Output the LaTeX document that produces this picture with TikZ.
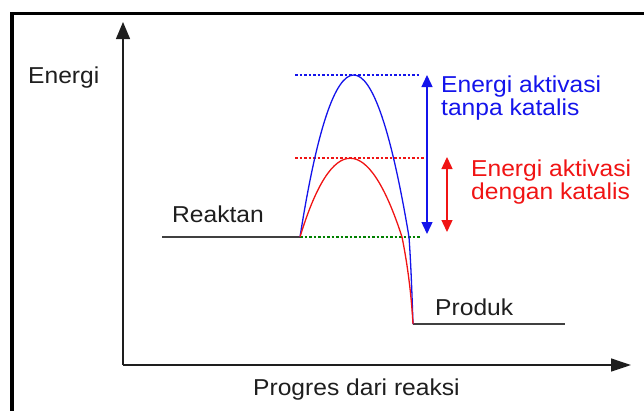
\documentclass[tikz,border=0pt]{standalone}
\usepackage{fontspec}
\setmainfont[FakeStretch=1.07]{Liberation Sans}
\usetikzlibrary{arrows.meta}
\definecolor{txtgray}{RGB}{30,30,30}
\definecolor{cblue}{RGB}{20,20,235}
\definecolor{cred}{RGB}{240,20,20}
\definecolor{cgreen}{RGB}{0,128,0}
\begin{document}
\begin{tikzpicture}[x=1pt,y=-1pt,
  lbl/.style={inner sep=0pt, anchor=base west, font=\fontsize{23}{23}\selectfont, text=txtgray},
  axis/.style={line width=1.3pt, draw=txtgray},
  level/.style={line width=1.2pt, draw=txtgray!85!white},
  curve/.style={line width=1.3pt},
  guide/.style={line width=1.2pt, dash pattern=on 2.5pt off 2pt},
  gap/.style={line width=1.4pt, {Triangle[length=12pt,width=11pt]}-{Triangle[length=12pt,width=11pt]}}
]
\useasboundingbox (0,0) rectangle (644,410);
% frame
\draw[line width=3.5pt, draw=black] (12,412) -- (12,13.5) -- (646,13.5);
% axes
\coordinate (O) at (123,365);
\coordinate (ytop) at (123,22);
\coordinate (xend) at (631,365);
\draw[axis, -{Triangle[length=17pt,width=14pt]}] (O) -- (ytop);
\draw[axis, -{Triangle[length=20pt,width=13pt]}] (O) -- (xend);
\node[lbl] (energi) at (28,83) {Energi};
\node[lbl] (progres) at (253,395) {Progres dari reaksi};
% levels
\coordinate (r0) at (162,237);
\coordinate (r1) at (300,237);
\coordinate (p0) at (413,324);
\coordinate (p1) at (565,324);
\draw[level] (r0) -- (r1);
\draw[level] (p0) -- (p1);
\node[lbl] (reaktan) at (172,222) {Reaktan};
\node[lbl] (produk) at (435,315) {Produk};
% guides
\coordinate (bl) at (295,75);
\coordinate (br) at (420,75);
\coordinate (rl) at (295,158);
\coordinate (rr) at (425,158);
\coordinate (gr) at (421,237);
\draw[guide, cblue] (bl) -- (br);
\draw[guide, cred] (rl) -- (rr);
\draw[guide, cgreen] (r1) -- (gr);
% curves
\coordinate (bend) at (409,237);
\coordinate (rend) at (402,237);
\draw[curve, cblue] (r1) .. controls (334,21) and (373,21) .. (bend)
  .. controls (411,265) and (412,295) .. (p0);
\draw[curve, cred] (r1) .. controls (332,132) and (368,132) .. (rend)
  .. controls (407,262) and (411,290) .. (p0);
% activation arrows
\coordinate (ba) at (427,75);
\coordinate (bb) at (427,234);
\coordinate (ra) at (447,157);
\coordinate (rb) at (447,232);
\draw[gap, cblue] (ba) -- (bb);
\draw[gap, cred] (ra) -- (rb);
\node[lbl, text=cblue] (ta1) at (441,92) {Energi aktivasi};
\node[lbl, text=cblue] (ta2) at (441,115) {tanpa katalis};
\node[lbl, text=cred] (da1) at (471,176) {Energi aktivasi};
\node[lbl, text=cred] (da2) at (471,199) {dengan katalis};
\end{tikzpicture}
\end{document}
